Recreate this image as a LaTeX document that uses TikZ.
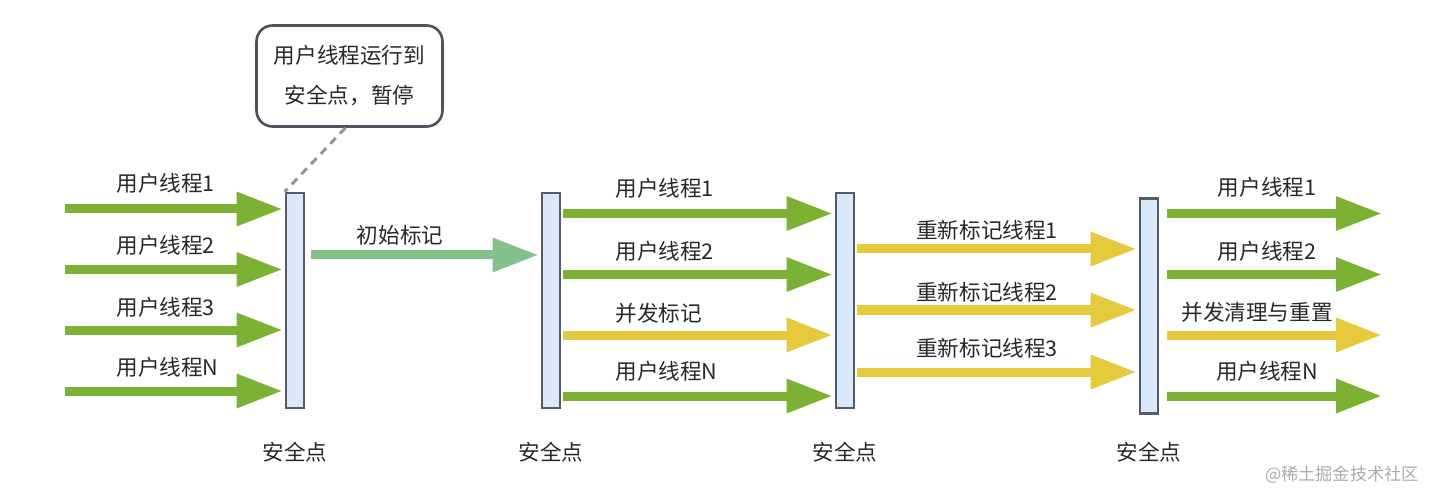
\documentclass[tikz,border=0pt]{standalone}
\usepackage{fontspec}
\setmainfont{Noto Sans CJK SC}
\usetikzlibrary{arrows.meta}
\definecolor{agreen}{RGB}{124,178,52}
\definecolor{ayellow}{RGB}{230,202,62}
\definecolor{amint}{RGB}{132,194,140}
\definecolor{barfill}{RGB}{218,232,252}
\definecolor{barline}{RGB}{85,92,102}
\definecolor{txt}{RGB}{40,40,40}
\definecolor{dashgray}{RGB}{150,150,150}
\begin{document}
\begin{tikzpicture}[x=0.5pt,y=-0.5pt,
  barbox/.style={draw=barline, fill=barfill, line width=1.3pt, minimum width=9pt, minimum height=107.5pt, inner sep=0pt},
  arr/.style={line width=4.5pt, -{Triangle[length=23pt,width=16pt]}, shorten >=1pt},
  garr/.style={arr, draw=agreen},
  yarr/.style={arr, draw=ayellow},
  marr/.style={arr, draw=amint},
  lab/.style={font=\fontsize{10.8pt}{13pt}\selectfont, text=txt, inner sep=0pt},
  calloutbox/.style={draw=barline!90!black, line width=1.3pt, rounded corners=8pt, minimum width=93pt, minimum height=50.5pt, align=center, font=\fontsize{10.8pt}{20pt}\selectfont, text=txt},
  wm/.style={font=\fontsize{8.6pt}{10pt}\selectfont, text=black!33, inner sep=0pt}
]
\useasboundingbox (0,0) rectangle (1440,502);

% safepoint bars
\node[barbox] (b1) at (295,300.5) {};
\node[barbox] (b2) at (551,300.5) {};
\node[barbox] (b3) at (845,300.5) {};
\node[barbox] (b4) at (1149,306) {};

% safepoint labels
\node[lab] (s1) at (295,452) {安全点};
\node[lab] (s2) at (551,452) {安全点};
\node[lab] (s3) at (845,452) {安全点};
\node[lab] (s4) at (1149,452) {安全点};

% callout
\node[calloutbox] (call) at (349.5,76) {用户线程运行到\\安全点，暂停};
\draw[dashgray, line width=1.5pt, dash pattern=on 4pt off 3pt] (call.south) ++(-2pt,0) coordinate (cs) (cs) -- (b1.north west);

% group 1: into bar 1
\coordinate (a1) at (65,209);
\coordinate (a2) at (65,269.5);
\coordinate (a3) at (65,330);
\coordinate (a4) at (65,391);
\draw[garr] (a1) -- (a1 -| b1.west);
\draw[garr] (a2) -- (a2 -| b1.west);
\draw[garr] (a3) -- (a3 -| b1.west);
\draw[garr] (a4) -- (a4 -| b1.west);
\node[lab, anchor=west] (l11) at (116,183) {用户线程1};
\node[lab, anchor=west] (l12) at (116,245) {用户线程2};
\node[lab, anchor=west] (l13) at (116,307) {用户线程3};
\node[lab, anchor=west] (l14) at (116,367) {用户线程N};

% initial mark
\draw[marr] (b1.east |- 0,255) ++(6,0) coordinate (im) (im) -- (im -| b2.west);
\node[lab] (lim) at (400,235) {初始标记};

% group 2: bar 2 -> bar 3
\coordinate (c1) at (563,213.5);
\coordinate (c2) at (563,274.5);
\coordinate (c3) at (563,335);
\coordinate (c4) at (563,396);
\draw[garr] (c1) -- (c1 -| b3.west);
\draw[garr] (c2) -- (c2 -| b3.west);
\draw[yarr] (c3) -- (c3 -| b3.west);
\draw[garr] (c4) -- (c4 -| b3.west);
\node[lab, anchor=west] (l21) at (615,188) {用户线程1};
\node[lab, anchor=west] (l22) at (615,251) {用户线程2};
\node[lab, anchor=west] (l23) at (615,313) {并发标记};
\node[lab, anchor=west] (l24) at (615,371) {用户线程N};

% group 3: bar 3 -> bar 4
\coordinate (d1) at (857,249);
\coordinate (d2) at (857,310);
\coordinate (d3) at (857,372);
\draw[yarr] (d1) -- (d1 -| b4.west);
\draw[yarr] (d2) -- (d2 -| b4.west);
\draw[yarr] (d3) -- (d3 -| b4.west);
\node[lab] (l31) at (987,230) {重新标记线程1};
\node[lab] (l32) at (987,292) {重新标记线程2};
\node[lab] (l33) at (987,348) {重新标记线程3};

% group 4: out of bar 4
\coordinate (e1) at (1167,213.5);
\coordinate (e2) at (1167,274.5);
\coordinate (e3) at (1167,335);
\coordinate (e4) at (1167,396);
\coordinate (f1) at (1384,213.5);
\coordinate (f2) at (1384,274.5);
\coordinate (f3) at (1384,335);
\coordinate (f4) at (1384,396);
\draw[garr] (e1) -- (f1);
\draw[garr] (e2) -- (f2);
\draw[yarr] (e3) -- (f3);
\draw[garr] (e4) -- (f4);
\node[lab] (l41) at (1267,187) {用户线程1};
\node[lab] (l42) at (1267,251) {用户线程2};
\node[lab] (l43) at (1257,312) {并发清理与重置};
\node[lab] (l44) at (1267,371) {用户线程N};

% watermark
\node[wm] (wmk) at (1342,475) {@稀土掘金技术社区};
\end{tikzpicture}
\end{document}
